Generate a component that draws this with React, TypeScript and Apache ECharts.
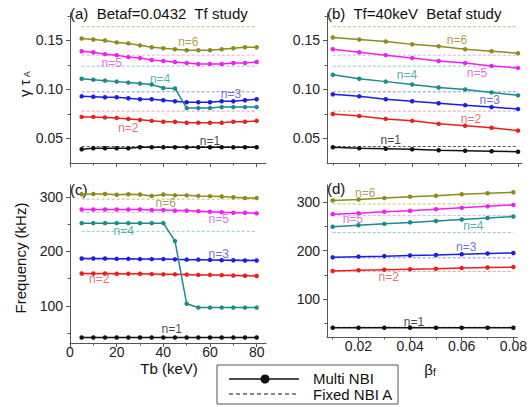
import React, { useEffect, useRef } from 'react';
import * as echarts from 'echarts';

// ---- data ----
const TB = [5, 10, 15, 20, 25, 30, 35, 40, 45, 50, 55, 60, 65, 70, 75, 80];
const BETAF = [0.01, 0.02, 0.03, 0.04, 0.05, 0.06, 0.07, 0.08];
const N_NAMES = ['n=1', 'n=2', 'n=3', 'n=4', 'n=5', 'n=6'];

// (a) growth rate vs Tb, Multi NBI
const GAMMA_TB_N1 = [0.039, 0.040, 0.040, 0.040, 0.040, 0.041, 0.041, 0.041, 0.041, 0.041, 0.041, 0.041, 0.041, 0.041, 0.041, 0.041];
const GAMMA_TB_N2 = [0.072, 0.072, 0.0715, 0.071, 0.070, 0.069, 0.068, 0.067, 0.067, 0.066, 0.066, 0.066, 0.066, 0.067, 0.067, 0.068];
const GAMMA_TB_N3 = [0.093, 0.0925, 0.092, 0.092, 0.091, 0.090, 0.090, 0.089, 0.088, 0.087, 0.087, 0.087, 0.088, 0.088, 0.089, 0.090];
const GAMMA_TB_N4 = [0.111, 0.110, 0.109, 0.108, 0.107, 0.106, 0.105, 0.1015, 0.101, 0.081, 0.081, 0.081, 0.082, 0.082, 0.082, 0.082];
const GAMMA_TB_N5 = [0.139, 0.138, 0.136, 0.135, 0.133, 0.132, 0.130, 0.129, 0.128, 0.127, 0.126, 0.126, 0.126, 0.127, 0.127, 0.128];
const GAMMA_TB_N6 = [0.152, 0.151, 0.150, 0.148, 0.147, 0.145, 0.143, 0.142, 0.141, 0.140, 0.140, 0.140, 0.141, 0.142, 0.143, 0.143];

// (b) growth rate vs betaf, Multi NBI
const GAMMA_BF_N1 = [0.041, 0.040, 0.0395, 0.039, 0.038, 0.0375, 0.037, 0.0365];
const GAMMA_BF_N2 = [0.075, 0.073, 0.070, 0.068, 0.065, 0.063, 0.061, 0.058];
const GAMMA_BF_N3 = [0.095, 0.093, 0.090, 0.088, 0.086, 0.084, 0.082, 0.080];
const GAMMA_BF_N4 = [0.115, 0.111, 0.108, 0.105, 0.102, 0.100, 0.097, 0.094];
const GAMMA_BF_N5 = [0.141, 0.138, 0.135, 0.132, 0.129, 0.127, 0.124, 0.122];
const GAMMA_BF_N6 = [0.153, 0.151, 0.149, 0.146, 0.144, 0.141, 0.139, 0.137];

// (c) frequency vs Tb, Multi NBI
const FREQ_TB_N1 = [42, 42, 42, 42, 42, 42, 42, 42, 42, 42, 42, 42, 42, 42, 42, 42];
const FREQ_TB_N2 = [159.5, 159.5, 159.5, 159, 159, 159, 158.5, 158, 158, 157.5, 157, 157, 156.5, 156, 155.5, 155];
const FREQ_TB_N3 = [187, 187, 187, 186.5, 186.5, 186, 186, 186, 185.5, 185, 185, 184.5, 184, 184, 183.5, 183.5];
const FREQ_TB_N4 = [252, 252, 252, 252, 252, 252, 252, 252, 219, 104, 97, 97, 97, 97, 97, 97];
const FREQ_TB_N5 = [277, 277, 277, 277, 277, 277, 276, 276, 275, 275, 274, 273, 272, 271, 271, 270];
const FREQ_TB_N6 = [305, 305.5, 305.5, 304, 305, 304.5, 302, 304.5, 303, 303, 302, 301.5, 301, 299.5, 298, 298];

// (d) frequency vs betaf, Multi NBI
const FREQ_BF_N1 = [41, 41, 41, 41, 41, 41, 41, 41];
const FREQ_BF_N2 = [158, 159.5, 160.5, 161.5, 162.5, 164, 165, 166];
const FREQ_BF_N3 = [186, 187.5, 188.5, 190, 191, 192.5, 194, 195];
const FREQ_BF_N4 = [249, 252, 255, 258, 261, 264, 267, 270];
const FREQ_BF_N5 = [275, 277, 280, 282, 285, 288, 291, 294];
const FREQ_BF_N6 = [303, 305, 308, 311, 313, 316, 318, 320];

// Fixed NBI A reference values (n=1..6)
const GAMMA_FIXED = [0.0418, 0.0779, 0.0976, 0.1238, 0.135, 0.164];
const FREQ_FIXED = [42, 157, 185, 237, 272, 296];

// tick values
const TB_TICKS = [0, 20, 40, 60, 80];
const TB_MINOR = [10, 30, 50, 70];
const BF_TICKS = [0.02, 0.04, 0.06, 0.08];
const BF_MINOR = [0.01, 0.03, 0.05, 0.07];
const GAMMA_TICKS = [0.05, 0.1, 0.15];
const GAMMA_MINOR = [0.075, 0.125, 0.175];
const FREQ_TICKS = [100, 200, 300];
const FREQ_MINOR = [50, 150, 250];

// label anchors (data coordinates) for n=1..6
const LBL_A = [[60, 0.0476], [25, 0.0612], [69, 0.0949], [38.6, 0.111], [17.9, 0.127], [50.7, 0.148]];
const LBL_B = [[0.0319, 0.0486], [0.0622, 0.0694], [0.0693, 0.0891], [0.038, 0.1143], [0.0645, 0.1163], [0.0569, 0.150]];
const LBL_C = [[43.6, 58.5], [12.5, 149], [63.7, 196], [23, 237], [63.7, 260], [41, 289]];
const LBL_D = [[0.0415, 52], [0.0317, 145], [0.0617, 208], [0.0645, 250], [0.0178, 264.5], [0.0226, 318]];

// ---- styles ----
const FONT = 'Liberation Sans, Arial, sans-serif';
const COLORS = ['#111111', '#e8201e', '#1e1ee0', '#1a8c8c', '#f020f0', '#8c8c1c'];
const DASH_COLORS = ['#555555', '#eaa0b0', '#9090e0', '#90c8c8', '#e8a8e8', '#c0c080'];
const LABEL_COLORS = ['#111111', '#e04848', '#4848d0', '#2a9a9a', '#e048e0', '#a08028'];
const AXIS_COLOR = '#555';

function panelSeries(idx: number, xs: number[], multi: number[][], fixed: number[], lbls: number[][]) {
  const out: any[] = [];
  fixed.forEach((v, i) => {
    out.push({
      type: 'line', xAxisIndex: idx, yAxisIndex: idx, symbol: 'none', silent: true, z: 1,
      lineStyle: { color: DASH_COLORS[i], width: 1, type: [3, 2] },
      data: [[xs[0], v], [xs[xs.length - 1], v]],
    });
  });
  multi.forEach((vals, i) => {
    out.push({
      type: 'line', xAxisIndex: idx, yAxisIndex: idx, symbol: 'circle', symbolSize: 4.5, z: 3,
      itemStyle: { color: COLORS[i] },
      lineStyle: { color: COLORS[i], width: 1.5 },
      data: xs.map((x, j) => [x, vals[j]]),
    });
  });
  out.push({
    type: 'scatter', xAxisIndex: idx, yAxisIndex: idx, symbolSize: 0, z: 5, silent: true,
    data: lbls.map((p, i) => ({
      value: p,
      label: {
        show: true, position: 'inside', formatter: N_NAMES[i], color: LABEL_COLORS[i],
        fontSize: 12, fontFamily: FONT,
      },
    })),
  });
  return out;
}

function xAxisMain(grid: number, min: number, max: number, ticks: number[], showLabel: boolean, fmt?: (v: number) => string) {
  return {
    type: 'value', gridIndex: grid, min, max, position: 'bottom', offset: 0,
    splitLine: { show: false },
    axisLine: { show: true, lineStyle: { color: AXIS_COLOR, width: 1 } },
    axisTick: { show: true, length: 4, customValues: ticks, lineStyle: { color: AXIS_COLOR } },
    axisLabel: {
      show: showLabel, customValues: ticks, margin: 2, color: '#222', fontSize: 14, fontFamily: FONT,
      lineHeight: 14,
      formatter: fmt ? (v: number) => fmt(v) : undefined,
    },
  };
}
function xAxisMinor(grid: number, min: number, max: number, ticks: number[]) {
  return {
    type: 'value', gridIndex: grid, min, max, position: 'bottom', offset: 0,
    splitLine: { show: false },
    axisLine: { show: false },
    axisTick: { show: true, length: 2.5, customValues: ticks, lineStyle: { color: AXIS_COLOR } },
    axisLabel: { show: false, customValues: ticks },
  };
}
function yAxisMain(grid: number, min: number, max: number, ticks: number[], fmt: (v: number) => string) {
  return {
    type: 'value', gridIndex: grid, min, max, position: 'left', offset: 0,
    splitLine: { show: false },
    axisLine: { show: true, lineStyle: { color: AXIS_COLOR, width: 1 } },
    axisTick: { show: true, length: 4, customValues: ticks, lineStyle: { color: AXIS_COLOR } },
    axisLabel: {
      show: true, customValues: ticks, margin: 7, color: '#222', fontSize: 14, fontFamily: FONT,
      formatter: (v: number) => fmt(v),
    },
  };
}
function yAxisMinor(grid: number, min: number, max: number, ticks: number[]) {
  return {
    type: 'value', gridIndex: grid, min, max, position: 'left', offset: 0,
    splitLine: { show: false },
    axisLine: { show: false },
    axisTick: { show: true, length: 2.5, customValues: ticks, lineStyle: { color: AXIS_COLOR } },
    axisLabel: { show: false, customValues: ticks },
  };
}

function txt(x: number, y: number, text: string, fontSize: number, opts: any = {}) {
  return {
    type: 'text', x, y, rotation: opts.rotation || 0, silent: true,
    style: {
      text, fill: '#111', fontSize, fontFamily: FONT,
      lineHeight: opts.lineHeight,
      align: opts.align || 'left', textAlign: opts.align || 'left',
      verticalAlign: 'middle', textVerticalAlign: 'middle',
      rich: opts.rich,
    },
  };
}

const X_A: [number, number] = [0, 84];
const X_B: [number, number] = [0.0078, 0.0815];
const Y_AB: [number, number] = [0.025, 0.178];
const Y_C: [number, number] = [32, 322];
const Y_D: [number, number] = [22, 335];

export default function App() {
  const ref = useRef<HTMLDivElement>(null);
  useEffect(() => {
    const chart = echarts.init(ref.current!, null, { renderer: 'svg' });
    const g2 = (v: number) => v.toFixed(2);
    const g0 = (v: number) => String(Math.round(v));
    const option: any = {
      animation: false,
      backgroundColor: '#ffffff',
      textStyle: { fontFamily: FONT },
      grid: [
        { left: 70, top: 13, width: 196, height: 150 },
        { left: 327, top: 13, width: 195, height: 150 },
        { left: 70, top: 185, width: 196, height: 158 },
        { left: 327, top: 185, width: 194, height: 152 },
      ],
      xAxis: [
        xAxisMain(0, X_A[0], X_A[1], TB_TICKS, false),
        xAxisMain(1, X_B[0], X_B[1], BF_TICKS, false),
        xAxisMain(2, X_A[0], X_A[1], TB_TICKS, true, g0),
        xAxisMain(3, X_B[0], X_B[1], BF_TICKS, true, g2),
        xAxisMinor(0, X_A[0], X_A[1], TB_MINOR),
        xAxisMinor(1, X_B[0], X_B[1], BF_MINOR),
        xAxisMinor(2, X_A[0], X_A[1], TB_MINOR),
        xAxisMinor(3, X_B[0], X_B[1], BF_MINOR),
      ],
      yAxis: [
        yAxisMain(0, Y_AB[0], Y_AB[1], GAMMA_TICKS, g2),
        yAxisMain(1, Y_AB[0], Y_AB[1], GAMMA_TICKS, g2),
        yAxisMain(2, Y_C[0], Y_C[1], FREQ_TICKS, g0),
        yAxisMain(3, Y_D[0], Y_D[1], FREQ_TICKS, g0),
        yAxisMinor(0, Y_AB[0], Y_AB[1], GAMMA_MINOR),
        yAxisMinor(1, Y_AB[0], Y_AB[1], GAMMA_MINOR),
        yAxisMinor(2, Y_C[0], Y_C[1], FREQ_MINOR),
        yAxisMinor(3, Y_D[0], Y_D[1], FREQ_MINOR),
      ],
      series: [
        ...panelSeries(0, TB, [GAMMA_TB_N1, GAMMA_TB_N2, GAMMA_TB_N3, GAMMA_TB_N4, GAMMA_TB_N5, GAMMA_TB_N6], GAMMA_FIXED, LBL_A),
        ...panelSeries(1, BETAF, [GAMMA_BF_N1, GAMMA_BF_N2, GAMMA_BF_N3, GAMMA_BF_N4, GAMMA_BF_N5, GAMMA_BF_N6], GAMMA_FIXED, LBL_B),
        ...panelSeries(2, TB, [FREQ_TB_N1, FREQ_TB_N2, FREQ_TB_N3, FREQ_TB_N4, FREQ_TB_N5, FREQ_TB_N6], FREQ_FIXED, LBL_C),
        ...panelSeries(3, BETAF, [FREQ_BF_N1, FREQ_BF_N2, FREQ_BF_N3, FREQ_BF_N4, FREQ_BF_N5, FREQ_BF_N6], FREQ_FIXED, LBL_D),
      ],
      graphic: [
        txt(70, 13, '(a)  Betaf=0.0432  Tf study', 15),
        txt(327, 13, '(b)  Tf=40keV  Betaf study', 15),
        txt(70, 189, '(c)', 15),
        txt(327, 188, '(d)', 15),
        txt(24, 84, '{m|γ τ}{s| A}', 15, {
          align: 'center', rotation: Math.PI / 2,
          rich: { m: { fontSize: 15, fontFamily: FONT, fill: '#111' }, s: { fontSize: 9, fontFamily: FONT, fill: '#111', verticalAlign: 'bottom', padding: [6, 0, 0, 0] } },
        }),
        txt(20, 258, 'Frequency (kHz)', 15, { align: 'center', rotation: Math.PI / 2 }),
        txt(169, 368, 'Tb (keV)', 15, { align: 'center', lineHeight: 15 }),
        txt(430, 369, '{m|β}{s|f}', 15, {
          align: 'center',
          rich: { m: { fontSize: 15, fontFamily: FONT, fill: '#111' }, s: { fontSize: 10, fontFamily: FONT, fill: '#111', padding: [6, 0, 0, 0] } },
        }),
        {
          type: 'rect', silent: true, shape: { x: 217, y: 365, width: 181, height: 39 },
          style: { fill: '#fff', stroke: '#555', lineWidth: 1 },
        },
        { type: 'line', silent: true, shape: { x1: 229, y1: 379, x2: 299, y2: 379 }, style: { stroke: '#111', lineWidth: 1.5 } },
        { type: 'circle', silent: true, shape: { cx: 265, cy: 379, r: 4.5 }, style: { fill: '#111' } },
        { type: 'line', silent: true, shape: { x1: 229, y1: 394, x2: 299, y2: 394 }, style: { stroke: '#111', lineWidth: 1.2, lineDash: [4, 3] } },
        txt(313, 378.5, 'Multi NBI', 15, { lineHeight: 14 }),
        txt(313, 394, 'Fixed NBI A', 15, { lineHeight: 14 }),
      ],
    };
    chart.setOption(option);
    return () => chart.dispose();
  }, []);
  return <div ref={ref} style={{ position: 'fixed', left: 0, top: 0, width: 530, height: 407 }} />;
}
